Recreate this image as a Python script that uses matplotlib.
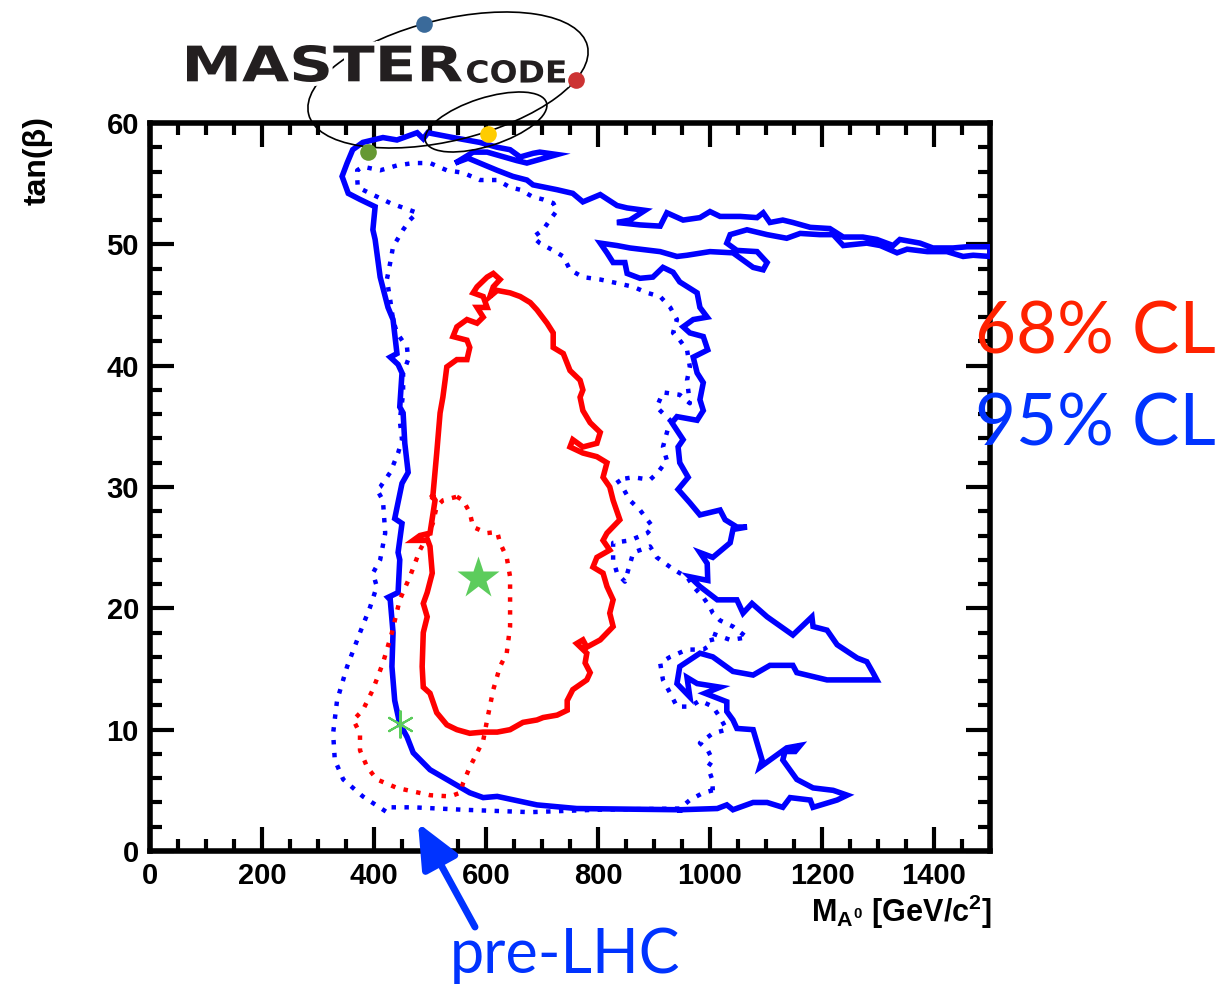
import matplotlib
matplotlib.use("Agg")
import matplotlib.pyplot as plt
import matplotlib.transforms as mtransforms
from matplotlib.ticker import MultipleLocator
from matplotlib.patches import Ellipse, PathPatch
from matplotlib.textpath import TextPath
from matplotlib.font_manager import FontProperties
from matplotlib.patheffects import withStroke

plt.rcParams["font.family"] = ["Liberation Sans", "DejaVu Sans"]
plt.rcParams["font.weight"] = "bold"
plt.rcParams["mathtext.fontset"] = "custom"
plt.rcParams["mathtext.rm"] = "Liberation Sans:bold"
plt.rcParams["mathtext.it"] = "Liberation Sans:bold"
plt.rcParams["mathtext.bf"] = "Liberation Sans:bold"

# 95% CL contour (current fit), M_A [GeV] vs tan(beta)
cl95_mass = [946, 762, 691, 620, 595, 571, 541, 500, 470, 459, 446, 437, 432, 434, 429, 425, 443, 446, 443, 450,
             437, 450, 461, 455, 452, 446, 450, 443, 429, 441, 434, 425, 411, 402, 398, 402, 375, 354, 343, 352,
             362, 380, 416, 441, 477, 488, 496, 518, 541, 589, 620, 643, 661, 684, 696, 727, 696, 673, 655, 625,
             602, 577, 563, 545, 568, 589, 620, 648, 673, 684, 727, 755, 773, 804, 834, 852, 884, 857, 834, 875,
             911, 923, 952, 982, 1000, 1018, 1054, 1084, 1095, 1107, 1130, 1148, 1179, 1214, 1238, 1273, 1298, 1327,
             1339, 1375, 1398, 1434, 1459, 1500, 1500, 1470, 1452, 1423, 1388, 1352, 1334, 1304, 1280, 1238, 1220,
             1196, 1161, 1137, 1102, 1066, 1036, 1030, 1048, 1084, 1102, 1095, 1077, 1041, 1000, 959, 941, 911, 857,
             834, 804, 816, 827, 848, 852, 875, 898, 916, 934, 946, 977, 982, 995, 970, 952, 964, 988, 996, 970,
             977, 988, 982, 988, 977, 941, 932, 952, 943, 946, 961, 943, 964, 982, 1018, 1027, 1048, 1066, 1041,
             1036, 1005, 982, 995, 996, 964, 982, 1013, 1048, 1059, 1075, 1102, 1148, 1182, 1184, 1209, 1227, 1263,
             1280, 1291, 1298, 1209, 1155, 1148, 1107, 1077, 1041, 1005, 982, 946, 941, 964, 959, 977, 1018, 991,
             1030, 1030, 1041, 1048, 1077, 1093, 1089, 1107, 1137, 1161, 1152, 1134, 1130, 1155, 1184, 1220, 1245,
             1227, 1184, 1179, 1143, 1130, 1102, 1077, 1041, 1030, 1013, 946]
cl95_tanb = [3.4, 3.5, 3.8, 4.5, 4.4, 4.8, 5.6, 6.7, 8.1, 9.4, 10.5, 12.4, 15.2, 18.0, 20.7, 20.9, 21.3, 24.0, 24.6, 27.0,
             27.4, 30.3, 31.2, 33.6, 36.1, 36.6, 39.4, 40.1, 40.7, 41.0, 43.8, 44.8, 47.3, 50.4, 51.2, 53.1, 53.7, 54.2,
             55.6, 56.7, 57.8, 58.4, 58.8, 58.6, 59.2, 58.7, 59.2, 59.0, 58.8, 58.4, 58.0, 57.8, 57.2, 57.5, 57.6, 57.4,
             57.0, 56.7, 56.9, 57.3, 57.6, 57.6, 57.2, 56.7, 57.1, 56.7, 56.1, 55.6, 55.3, 54.9, 54.5, 54.2, 53.5, 54.1,
             53.2, 53.0, 52.8, 52.0, 51.8, 51.6, 51.5, 52.6, 52.0, 52.2, 52.7, 52.3, 52.3, 52.2, 52.6, 51.8, 52.0, 51.8,
             51.4, 51.3, 50.6, 50.6, 50.4, 49.9, 50.4, 50.1, 49.7, 49.7, 49.8, 49.8, 49.0, 49.1, 49.0, 49.4, 49.4, 49.6,
             49.3, 49.9, 50.1, 49.9, 50.8, 50.8, 50.9, 50.5, 50.8, 51.2, 50.8, 50.1, 49.5, 49.4, 48.5, 47.9, 48.1, 49.3,
             49.4, 49.1, 49.0, 49.4, 49.7, 49.9, 50.1, 49.3, 48.5, 48.5, 47.6, 47.2, 47.3, 48.1, 47.7, 46.9, 46.0, 44.8,
             44.0, 43.8, 43.2, 42.7, 42.4, 41.3, 40.7, 39.4, 38.6, 37.2, 36.3, 35.5, 35.8, 35.3, 33.9, 33.3, 32.0, 30.8,
             29.8, 28.7, 27.7, 28.1, 27.3, 26.7, 26.7, 26.5, 25.4, 24.2, 24.6, 23.7, 22.3, 22.6, 21.8, 20.7, 20.7, 19.6,
             20.4, 19.3, 17.8, 19.3, 18.5, 18.2, 17.0, 15.9, 15.6, 14.7, 14.1, 14.1, 14.7, 15.3, 15.3, 14.5, 14.8, 16.0,
             16.3, 15.2, 13.8, 12.7, 14.3, 13.8, 13.5, 13.0, 12.3, 11.5, 10.8, 10.1, 10.0, 7.5, 6.9, 7.5, 8.5, 8.7,
             8.2, 8.2, 7.5, 5.9, 5.2, 5.0, 4.6, 4.2, 3.6, 4.2, 4.4, 3.6, 4.0, 4.0, 3.4, 3.8, 3.5, 3.4]

# 95% CL contour, pre-LHC
pre95_mass = [1005, 988, 964, 946, 798, 679, 559, 470, 429, 423, 380, 345, 330, 327, 334, 352, 375, 393, 405, 398,
              411, 420, 416, 405, 411, 429, 443, 450, 446, 452, 452, 461, 459, 441, 434, 429, 423, 429, 434, 452,
              464, 477, 429, 393, 371, 370, 370, 380, 411, 441, 470, 500, 530, 559, 589, 620, 643, 661, 684, 702,
              720, 727, 714, 702, 684, 696, 720, 738, 750, 773, 804, 834, 863, 888, 911, 929, 941, 934, 946, 959,
              964, 959, 964, 946, 916, 905, 911, 929, 923, 916, 923, 907, 893, 863, 834, 846, 857, 875, 898, 888,
              857, 827, 827, 834, 848, 863, 893, 905, 929, 946, 959, 970, 988, 1000, 1005, 1018, 1041, 1066, 1036,
              1000, 1005, 988, 959, 929, 911, 916, 929, 941, 964, 982, 1005, 1018, 1030, 1005, 982, 996, 1005, 996,
              1004, 1005]
pre95_tanb = [5.0, 4.8, 4.2, 3.5, 3.4, 3.2, 3.4, 3.6, 3.6, 3.2, 4.5, 5.9, 7.5, 9.7, 12.4, 15.2, 18.0, 20.1, 21.8, 22.9,
              24.0, 26.2, 28.9, 29.8, 30.0, 31.2, 32.8, 33.9, 35.5, 37.7, 39.4, 40.5, 41.5, 42.7, 43.8, 45.4, 47.1,
              48.5, 49.8, 51.2, 52.0, 52.6, 53.4, 54.2, 54.7, 55.5, 56.1, 56.4, 56.1, 56.5, 56.7, 56.7, 56.1, 55.9,
              55.3, 55.3, 54.7, 54.5, 53.9, 53.7, 53.4, 52.8, 52.0, 51.2, 50.6, 50.1, 49.5, 49.0, 47.9, 47.3, 47.1,
              46.8, 46.5, 46.0, 45.7, 44.8, 43.8, 42.7, 42.1, 41.3, 39.9, 38.8, 36.9, 37.6, 37.8, 36.6, 36.3, 35.5,
              34.5, 33.3, 32.2, 31.2, 30.6, 30.8, 30.6, 29.8, 28.9, 28.1, 26.7, 26.2, 25.6, 25.4, 24.0, 22.9, 22.2,
              24.6, 25.1, 24.2, 23.4, 22.9, 22.6, 21.8, 20.9, 20.1, 19.6, 19.0, 18.5, 17.6, 17.4, 18.0, 17.1, 16.6,
              16.6, 16.0, 15.5, 14.1, 13.0, 11.9, 11.9, 12.4, 11.9, 11.0, 10.0, 9.7, 8.9, 8.3, 7.5, 6.9, 5.9, 5.0]

# 68% CL contour (current fit)
cl68_mass = [505, 512, 518, 523, 527, 530, 548, 566, 571, 566, 541, 548, 566, 584, 595, 584, 602, 595, 577, 584,
             602, 613, 625, 613, 607, 620, 643, 661, 679, 691, 709, 720, 720, 738, 750, 768, 773, 768, 773, 786,
             804, 798, 773, 755, 750, 773, 798, 816, 809, 821, 827, 839, 816, 809, 821, 798, 791, 809, 816, 827,
             821, 827, 804, 780, 773, 762, 780, 777, 786, 780, 755, 745, 745, 727, 702, 691, 666, 643, 620, 595,
             571, 548, 530, 512, 500, 488, 486, 488, 495, 488, 495, 504, 500, 496, 470, 482, 500, 509, 505]
cl68_tanb = [29.2, 32.8, 36.1, 37.4, 38.8, 39.9, 40.5, 40.5, 41.5, 42.1, 42.4, 43.2, 43.8, 43.5, 44.0, 44.8, 44.8, 45.7,
             46.0, 46.5, 47.3, 47.6, 47.1, 46.5, 45.7, 46.2, 46.0, 45.7, 45.2, 44.6, 43.5, 42.7, 41.5, 41.0, 39.6, 38.8,
             38.0, 37.4, 36.3, 35.3, 34.5, 33.6, 33.3, 33.9, 33.3, 32.8, 32.5, 32.0, 30.8, 30.0, 28.9, 27.3, 26.2, 25.6,
             24.8, 24.2, 23.4, 22.9, 21.8, 20.7, 19.6, 18.5, 17.4, 16.8, 17.4, 17.1, 16.3, 15.5, 14.7, 14.1, 13.3, 12.4,
             11.6, 11.2, 11.0, 10.8, 10.6, 10.0, 9.8, 9.8, 9.7, 10.0, 10.4, 11.4, 13.0, 13.5, 15.2, 18.0, 19.3, 20.4,
             21.3, 22.9, 25.1, 25.6, 25.6, 26.0, 26.2, 28.9, 29.2]

# 68% CL contour, pre-LHC
pre68_mass = [548, 559, 571, 577, 602, 620, 625, 637, 643, 643, 643, 637, 625, 613, 602, 595, 584, 571, 559, 554,
              536, 500, 441, 405, 388, 375, 375, 363, 380, 398, 416, 432, 446, 464, 482, 495, 505, 512, 523, 548]
pre68_tanb = [29.2, 28.9, 27.9, 26.7, 26.2, 26.3, 25.4, 24.2, 22.6, 20.7, 18.5, 16.3, 15.2, 13.3, 10.8, 9.1, 8.1, 6.9,
              5.6, 4.8, 4.5, 4.6, 5.2, 5.9, 6.9, 8.3, 9.7, 10.8, 11.6, 13.3, 15.5, 18.0, 20.7, 22.6, 24.8, 25.9,
              27.0, 28.4, 28.9, 29.2]

best_fit = (586, 22.5)
pre_lhc_best_fit = (446, 10.5)

BLUE = "#0000ff"
RED = "#ff0000"
GREEN = "#5ccc5c"

fig = plt.figure(figsize=(12.3, 9.84), dpi=100)
ax = fig.add_axes([150 / 1230, 133 / 984, 840 / 1230, 728 / 984])

dots = (0, (1.0, 1.9))
ax.plot(pre95_mass, pre95_tanb, color=BLUE, lw=3.2, ls=dots, zorder=2)
ax.plot(cl95_mass, cl95_tanb, color=BLUE, lw=4.0, solid_joinstyle="miter", zorder=3)
ax.plot(pre68_mass, pre68_tanb, color=RED, lw=3.2, ls=dots, zorder=4)
ax.plot(cl68_mass, cl68_tanb, color=RED, lw=4.0, solid_joinstyle="miter", zorder=5)

ax.plot(*best_fit, marker="*", ms=32, color=GREEN, mec="none", zorder=6)
ax.plot(*pre_lhc_best_fit, marker=(6, 2, 0), ms=20, mew=1.5, color=GREEN, zorder=6)

ax.set_xlim(0, 1500)
ax.set_ylim(0, 60)
ax.set_xticks(range(0, 1501, 200))
ax.set_yticks(range(0, 61, 10))
ax.xaxis.set_minor_locator(MultipleLocator(50))
ax.yaxis.set_minor_locator(MultipleLocator(2))
ax.tick_params(which="both", direction="in", top=True, right=True, width=3, labelsize=21)
ax.tick_params(which="major", length=17, pad=8)
ax.tick_params(which="minor", length=8.5)
for s in ax.spines.values():
    s.set_linewidth(4)

fig.text(38 / 1230, 1 - 116 / 984, "tan(β)", rotation=90, ha="center", va="top", fontsize=23)
fig.text(992 / 1230, 1 - 912 / 984, r"M$_{A^0}$ [GeV/c$^2$]", ha="right", va="center", fontsize=22)

# overlay in pixel units for logo, labels and arrow
ov = fig.add_axes([0, 0, 1, 1], zorder=5)
ov.set_xlim(0, 1230)
ov.set_ylim(0, 984)
ov.axis("off")
ov.patch.set_alpha(0)

ov.text(975, 984 - 353, "68% CL", color="#ff2200", fontsize=51, family="Lato", fontweight="normal",
        ha="left", va="baseline")
ov.text(975, 984 - 445, "95% CL", color="#0033ff", fontsize=51, family="Lato", fontweight="normal",
        ha="left", va="baseline")
ov.text(450, 984 - 973, "pre-LHC", color="#0033ff", fontsize=44, family="Lato", fontweight="normal",
        ha="left", va="baseline")
ov.annotate("", xy=(418, 984 - 823), xytext=(475, 984 - 927),
            arrowprops=dict(arrowstyle="-|>,head_length=0.9,head_width=0.4", color="#0033ff", lw=5,
                            mutation_scale=30, shrinkA=0, shrinkB=0))

# logo: two orbits, four dots and the word mark
ov.add_patch(Ellipse((448, 904), 287, 121, angle=13.8, fill=False, ec="black", lw=1.2, zorder=1))
ov.add_patch(Ellipse((486, 862), 127, 48, angle=17.8, fill=False, ec="black", lw=1.2, zorder=1))


def word(text, x0, x1, y0, y1):
    tp = TextPath((0, 0), text, size=100, prop=FontProperties(family="DejaVu Sans", weight="bold"))
    bb = tp.get_extents()
    tr = mtransforms.Affine2D().translate(-bb.x0, -bb.y0).scale((x1 - x0) / bb.width, (y1 - y0) / bb.height)
    tr = tr.translate(x0, y0)
    ov.add_patch(PathPatch(tr.transform_path(tp), fc="#231f20", ec="none", zorder=3,
                           path_effects=[withStroke(linewidth=6, foreground="white")]))


word("MASTER", 187, 462, 902, 939)
word("CODE", 467, 565, 901, 924)

for (px, py), c in zip([(424, 960), (576, 904), (488, 850), (368, 832)],
                       ["#3a6a9a", "#cc3333", "#ffcc00", "#669933"]):
    ov.plot(px, py, "o", ms=12, color=c, mec="none", zorder=4)

fig.savefig("out.png", dpi=100)
